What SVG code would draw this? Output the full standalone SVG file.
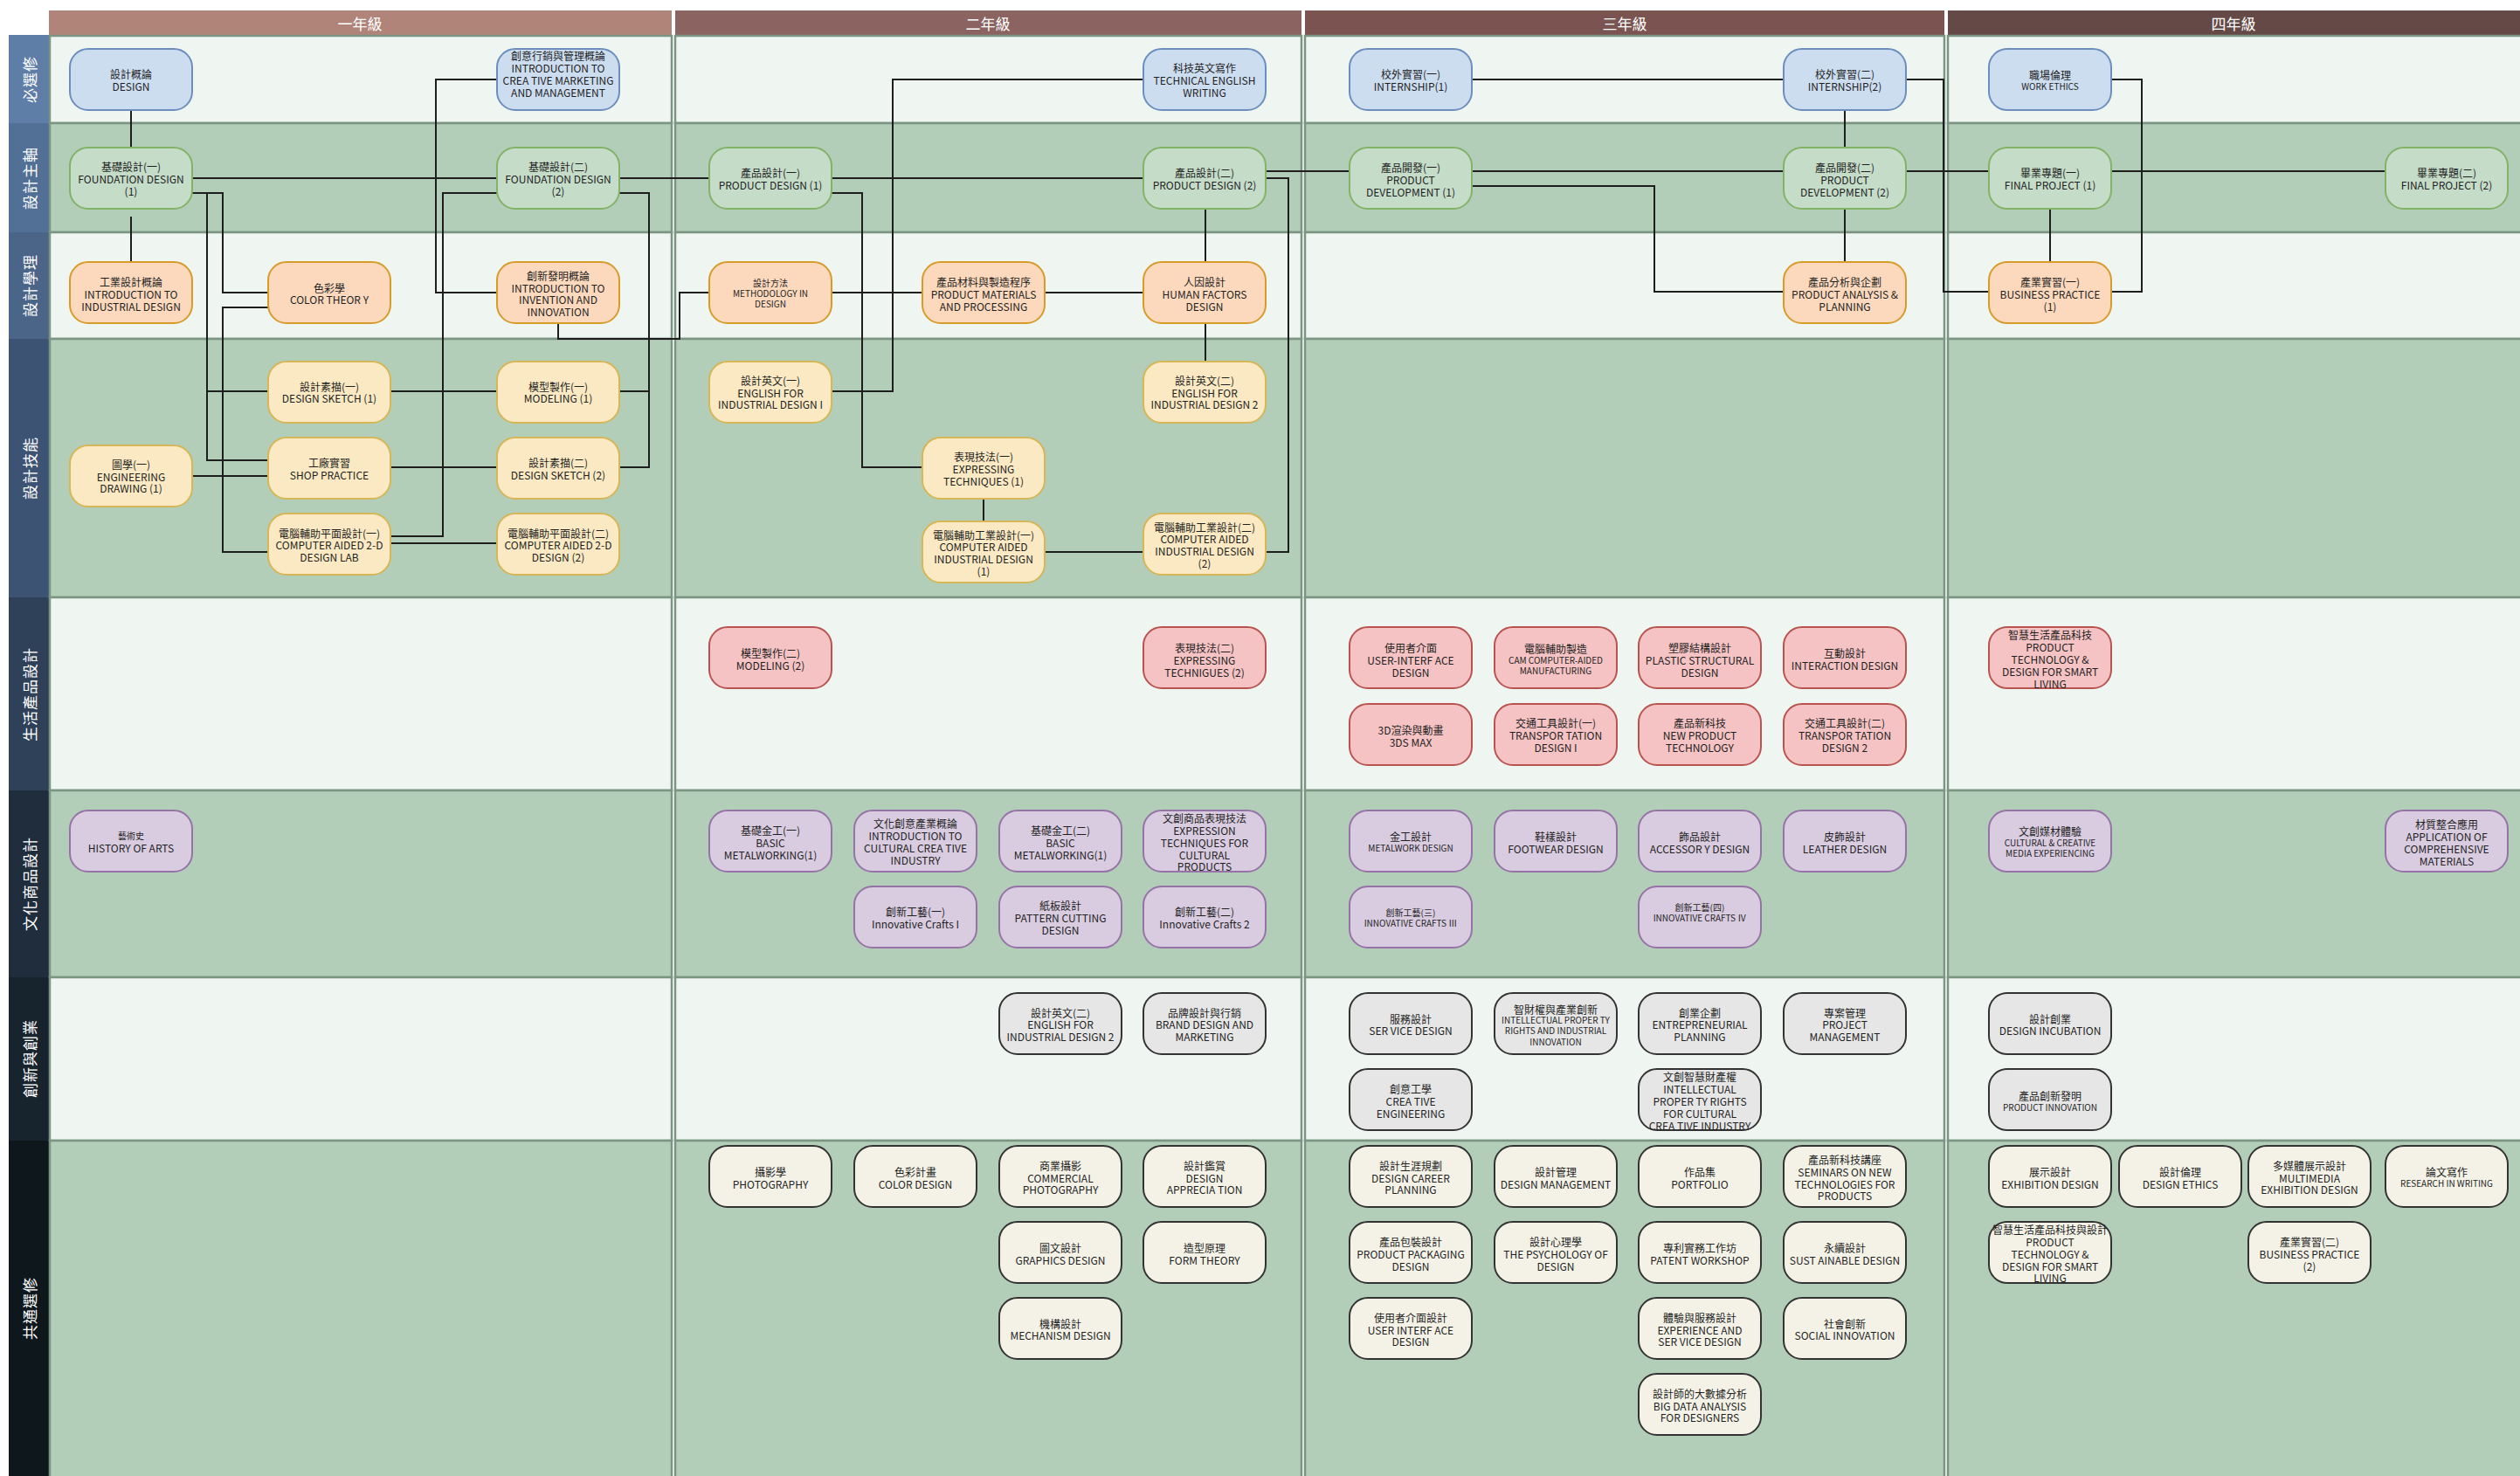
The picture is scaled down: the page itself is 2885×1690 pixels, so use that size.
<svg xmlns="http://www.w3.org/2000/svg" width="2885" height="1690" viewBox="0 0 2885 1690">
<style>
.bg{fill:#ffffff}
.lt{fill:#eff6f1;stroke:#7b9583;stroke-width:2.5}
.dk{fill:#b2cdb8;stroke:#7b9583;stroke-width:2.5}
.hd{fill:#ffffff;font-family:"Noto Sans CJK TC","Noto Sans CJK SC",sans-serif;font-size:17px;text-anchor:middle;dominant-baseline:central}
.ln{fill:#ffffff;font-family:"Noto Sans CJK TC","Noto Sans CJK SC",sans-serif;font-size:17px;text-anchor:middle;dominant-baseline:central;letter-spacing:1px}
.n{stroke-width:2}
.b{fill:#cdddf0;stroke:#6c8ebf}
.g{fill:#c5dcc9;stroke:#82b366}
.o{fill:#fcd9bd;stroke:#d79b2a}
.y{fill:#fae9c2;stroke:#d6b656}
.r{fill:#f5c3c3;stroke:#b85450}
.p{fill:#d9cce0;stroke:#9673a6}
.gr{fill:#e6e6e6;stroke:#333333}
.c{fill:#f4f2e7;stroke:#333333}
.t{font-family:"Noto Sans CJK TC","Noto Sans CJK SC",sans-serif;font-size:12px;fill:#1f1f1f;text-anchor:middle;dominant-baseline:central}
.s{font-size:10px}
.cn{fill:none;stroke:#1e1e1e;stroke-width:2}
</style>
<rect class="bg" x="0" y="0" width="2885" height="1690"/>

<g id="headers">
<rect x="56" y="12" width="713" height="28" fill="#b08479"/>
<rect x="773" y="12" width="717" height="28" fill="#8b6461"/>
<rect x="1494" y="12" width="732" height="28" fill="#7b5350"/>
<rect x="2230" y="12" width="655" height="28" fill="#654946"/>
<text class="hd" x="412" y="26">一年級</text>
<text class="hd" x="1131" y="26">二年級</text>
<text class="hd" x="1860" y="26">三年級</text>
<text class="hd" x="2557" y="26">四年級</text>
</g>

<g id="lane-labels">
<rect x="10" y="40" width="47" height="101" fill="#5f7ea7"/>
<rect x="10" y="141" width="47" height="125" fill="#526f96"/>
<rect x="10" y="266" width="47" height="122" fill="#4b6588"/>
<rect x="10" y="388" width="47" height="296" fill="#3d5373"/>
<rect x="10" y="684" width="47" height="221" fill="#2e4158"/>
<rect x="10" y="905" width="47" height="214" fill="#1f2d3c"/>
<rect x="10" y="1119" width="47" height="187" fill="#17242e"/>
<rect x="10" y="1306" width="47" height="384" fill="#0d171c"/>
<text class="ln" transform="translate(33,91) rotate(-90)">必選修</text>
<text class="ln" transform="translate(33,204) rotate(-90)">設計主軸</text>
<text class="ln" transform="translate(33,327) rotate(-90)">設計學理</text>
<text class="ln" transform="translate(33,536) rotate(-90)">設計技能</text>
<text class="ln" transform="translate(33,795) rotate(-90)">生活產品設計</text>
<text class="ln" transform="translate(33,1012) rotate(-90)">文化商品設計</text>
<text class="ln" transform="translate(33,1212) rotate(-90)">創新與創業</text>
<text class="ln" transform="translate(33,1498) rotate(-90)">共通選修</text>
</g>

<g id="lanes">
<rect class="lt" x="57" y="41" width="712" height="100"/>
<rect class="lt" x="773" y="41" width="717" height="100"/>
<rect class="lt" x="1494" y="41" width="732" height="100"/>
<rect class="lt" x="2230" y="41" width="660" height="100"/>
<rect class="dk" x="57" y="141" width="712" height="125"/>
<rect class="dk" x="773" y="141" width="717" height="125"/>
<rect class="dk" x="1494" y="141" width="732" height="125"/>
<rect class="dk" x="2230" y="141" width="660" height="125"/>
<rect class="lt" x="57" y="266" width="712" height="122"/>
<rect class="lt" x="773" y="266" width="717" height="122"/>
<rect class="lt" x="1494" y="266" width="732" height="122"/>
<rect class="lt" x="2230" y="266" width="660" height="122"/>
<rect class="dk" x="57" y="388" width="712" height="296"/>
<rect class="dk" x="773" y="388" width="717" height="296"/>
<rect class="dk" x="1494" y="388" width="732" height="296"/>
<rect class="dk" x="2230" y="388" width="660" height="296"/>
<rect class="lt" x="57" y="684" width="712" height="221"/>
<rect class="lt" x="773" y="684" width="717" height="221"/>
<rect class="lt" x="1494" y="684" width="732" height="221"/>
<rect class="lt" x="2230" y="684" width="660" height="221"/>
<rect class="dk" x="57" y="905" width="712" height="214"/>
<rect class="dk" x="773" y="905" width="717" height="214"/>
<rect class="dk" x="1494" y="905" width="732" height="214"/>
<rect class="dk" x="2230" y="905" width="660" height="214"/>
<rect class="lt" x="57" y="1119" width="712" height="187"/>
<rect class="lt" x="773" y="1119" width="717" height="187"/>
<rect class="lt" x="1494" y="1119" width="732" height="187"/>
<rect class="lt" x="2230" y="1119" width="660" height="187"/>
<rect class="dk" x="57" y="1306" width="712" height="390"/>
<rect class="dk" x="773" y="1306" width="717" height="390"/>
<rect class="dk" x="1494" y="1306" width="732" height="390"/>
<rect class="dk" x="2230" y="1306" width="660" height="390"/>
</g>

<g id="connectors">
<path class="cn" d="M150,126 V169"/>
<path class="cn" d="M150,248 V300"/>
<path class="cn" d="M220,204 H569"/>
<path class="cn" d="M709,204 H812"/>
<path class="cn" d="M220,221 H255 V335 H307"/>
<path class="cn" d="M220,221 H237 V527 H307"/>
<path class="cn" d="M237,448 H307"/>
<path class="cn" d="M307,352 H255 V632 H307"/>
<path class="cn" d="M447,448 H569"/>
<path class="cn" d="M709,221 H743 V535 H709"/>
<path class="cn" d="M709,448 H743"/>
<path class="cn" d="M447,535 H569"/>
<path class="cn" d="M220,545 H307"/>
<path class="cn" d="M447,622 H569"/>
<path class="cn" d="M447,614 H507 V221 H569"/>
<path class="cn" d="M569,91 H499 V335 H569"/>
<path class="cn" d="M639,370 V388 H778 V335 H812"/>
<path class="cn" d="M1309,91 H1022 V448 H952"/>
<path class="cn" d="M952,204 H1309"/>
<path class="cn" d="M952,221 H987 V535 H1056"/>
<path class="cn" d="M952,335 H1056"/>
<path class="cn" d="M1196,335 H1309"/>
<path class="cn" d="M1380,239 V300"/>
<path class="cn" d="M1380,370 V414"/>
<path class="cn" d="M1126,571 V597"/>
<path class="cn" d="M1196,632 H1309"/>
<path class="cn" d="M1449,632 H1475 V204 H1449"/>
<path class="cn" d="M1449,196 H1545"/>
<path class="cn" d="M1685,91 H2042"/>
<path class="cn" d="M2182,91 H2225 V334 H2277"/>
<path class="cn" d="M2112,126 V169"/>
<path class="cn" d="M1685,196 H2042"/>
<path class="cn" d="M1685,213 H1894 V334 H2042"/>
<path class="cn" d="M2112,239 V300"/>
<path class="cn" d="M2182,196 H2277"/>
<path class="cn" d="M2417,91 H2452 V334 H2417"/>
<path class="cn" d="M2417,196 H2731"/>
<path class="cn" d="M2347,239 V300"/>
</g>

<!-- Lane 1 -->
<g id="n-design"><rect class="n b" x="80" y="56" width="140" height="70" rx="21"/><text class="t"><tspan x="150" y="84">設計概論</tspan><tspan x="150" y="98">DESIGN</tspan></text></g>
<g id="n-cmm"><rect class="n b" x="569" y="56" width="140" height="70" rx="21"/><text class="t"><tspan x="639" y="63">創意行銷與管理概論</tspan><tspan x="639" y="77">INTRODUCTION TO</tspan><tspan x="639" y="91">CREA TIVE MARKETING</tspan><tspan x="639" y="105">AND MANAGEMENT</tspan></text></g>
<g id="n-tew"><rect class="n b" x="1309" y="56" width="140" height="70" rx="21"/><text class="t"><tspan x="1379" y="77">科技英文寫作</tspan><tspan x="1379" y="91">TECHNICAL ENGLISH</tspan><tspan x="1379" y="105">WRITING</tspan></text></g>
<g id="n-int1"><rect class="n b" x="1545" y="56" width="140" height="70" rx="21"/><text class="t"><tspan x="1615" y="84">校外實習(一)</tspan><tspan x="1615" y="98">INTERNSHIP(1)</tspan></text></g>
<g id="n-int2"><rect class="n b" x="2042" y="56" width="140" height="70" rx="21"/><text class="t"><tspan x="2112" y="84">校外實習(二)</tspan><tspan x="2112" y="98">INTERNSHIP(2)</tspan></text></g>
<g id="n-we"><rect class="n b" x="2277" y="56" width="140" height="70" rx="21"/><text class="t"><tspan x="2347" y="85">職場倫理</tspan><tspan class="s" x="2347" y="98">WORK ETHICS</tspan></text></g>

<!-- Lane 2 -->
<g id="n-fd1"><rect class="n g" x="80" y="169" width="140" height="70" rx="21"/><text class="t"><tspan x="150" y="190">基礎設計(一)</tspan><tspan x="150" y="204">FOUNDATION DESIGN</tspan><tspan x="150" y="218">(1)</tspan></text></g>
<g id="n-fd2"><rect class="n g" x="569" y="169" width="140" height="70" rx="21"/><text class="t"><tspan x="639" y="190">基礎設計(二)</tspan><tspan x="639" y="204">FOUNDATION DESIGN</tspan><tspan x="639" y="218">(2)</tspan></text></g>
<g id="n-pd1"><rect class="n g" x="812" y="169" width="140" height="70" rx="21"/><text class="t"><tspan x="882" y="197">產品設計(一)</tspan><tspan x="882" y="211">PRODUCT DESIGN (1)</tspan></text></g>
<g id="n-pd2"><rect class="n g" x="1309" y="169" width="140" height="70" rx="21"/><text class="t"><tspan x="1379" y="197">產品設計(二)</tspan><tspan x="1379" y="211">PRODUCT DESIGN (2)</tspan></text></g>
<g id="n-dev1"><rect class="n g" x="1545" y="169" width="140" height="70" rx="21"/><text class="t"><tspan x="1615" y="191">產品開發(一)</tspan><tspan x="1615" y="205">PRODUCT</tspan><tspan x="1615" y="219">DEVELOPMENT (1)</tspan></text></g>
<g id="n-dev2"><rect class="n g" x="2042" y="169" width="140" height="70" rx="21"/><text class="t"><tspan x="2112" y="191">產品開發(二)</tspan><tspan x="2112" y="205">PRODUCT</tspan><tspan x="2112" y="219">DEVELOPMENT (2)</tspan></text></g>
<g id="n-fp1"><rect class="n g" x="2277" y="169" width="140" height="70" rx="21"/><text class="t"><tspan x="2347" y="197">畢業專題(一)</tspan><tspan x="2347" y="211">FINAL PROJECT (1)</tspan></text></g>
<g id="n-fp2"><rect class="n g" x="2731" y="169" width="140" height="70" rx="21"/><text class="t"><tspan x="2801" y="197">畢業專題(二)</tspan><tspan x="2801" y="211">FINAL PROJECT (2)</tspan></text></g>

<!-- Lane 3 -->
<g id="n-iid"><rect class="n o" x="80" y="300" width="140" height="70" rx="21"/><text class="t"><tspan x="150" y="322">工業設計概論</tspan><tspan x="150" y="336">INTRODUCTION TO</tspan><tspan x="150" y="350">INDUSTRIAL DESIGN</tspan></text></g>
<g id="n-ct"><rect class="n o" x="307" y="300" width="140" height="70" rx="21"/><text class="t"><tspan x="377" y="329">色彩學</tspan><tspan x="377" y="342">COLOR THEOR Y</tspan></text></g>
<g id="n-iii"><rect class="n o" x="569" y="300" width="140" height="70" rx="21"/><text class="t"><tspan x="639" y="315">創新發明概論</tspan><tspan x="639" y="329">INTRODUCTION TO</tspan><tspan x="639" y="342">INVENTION AND</tspan><tspan x="639" y="356">INNOVATION</tspan></text></g>
<g id="n-meth"><rect class="n o" x="812" y="300" width="140" height="70" rx="21"/><text class="t s"><tspan x="882" y="323">設計方法</tspan><tspan x="882" y="335">METHODOLOGY IN</tspan><tspan x="882" y="347">DESIGN</tspan></text></g>
<g id="n-pmp"><rect class="n o" x="1056" y="300" width="140" height="70" rx="21"/><text class="t"><tspan x="1126" y="322">產品材料與製造程序</tspan><tspan x="1126" y="336">PRODUCT MATERIALS</tspan><tspan x="1126" y="350">AND PROCESSING</tspan></text></g>
<g id="n-hf"><rect class="n o" x="1309" y="300" width="140" height="70" rx="21"/><text class="t"><tspan x="1379" y="322">人因設計</tspan><tspan x="1379" y="336">HUMAN FACTORS</tspan><tspan x="1379" y="350">DESIGN</tspan></text></g>
<g id="n-pap"><rect class="n o" x="2042" y="300" width="140" height="70" rx="21"/><text class="t"><tspan x="2112" y="322">產品分析與企劃</tspan><tspan x="2112" y="336">PRODUCT ANALYSIS &amp;</tspan><tspan x="2112" y="350">PLANNING</tspan></text></g>
<g id="n-bp1"><rect class="n o" x="2277" y="300" width="140" height="70" rx="21"/><text class="t"><tspan x="2347" y="322">產業實習(一)</tspan><tspan x="2347" y="336">BUSINESS PRACTICE</tspan><tspan x="2347" y="350">(1)</tspan></text></g>

<!-- Lane 4 -->
<g id="n-ds1"><rect class="n y" x="307" y="414" width="140" height="70" rx="21"/><text class="t"><tspan x="377" y="442">設計素描(一)</tspan><tspan x="377" y="455">DESIGN SKETCH (1)</tspan></text></g>
<g id="n-mod1"><rect class="n y" x="569" y="414" width="140" height="70" rx="21"/><text class="t"><tspan x="639" y="442">模型製作(一)</tspan><tspan x="639" y="455">MODELING (1)</tspan></text></g>
<g id="n-ed"><rect class="n y" x="80" y="510" width="140" height="70" rx="21"/><text class="t"><tspan x="150" y="531">圖學(一)</tspan><tspan x="150" y="545">ENGINEERING</tspan><tspan x="150" y="558">DRAWING (1)</tspan></text></g>
<g id="n-sp"><rect class="n y" x="307" y="501" width="140" height="70" rx="21"/><text class="t"><tspan x="377" y="529">工廠實習</tspan><tspan x="377" y="543">SHOP PRACTICE</tspan></text></g>
<g id="n-ds2"><rect class="n y" x="569" y="501" width="140" height="70" rx="21"/><text class="t"><tspan x="639" y="529">設計素描(二)</tspan><tspan x="639" y="543">DESIGN SKETCH (2)</tspan></text></g>
<g id="n-cad1"><rect class="n y" x="307" y="588" width="140" height="70" rx="21"/><text class="t"><tspan x="377" y="610">電腦輔助平面設計(一)</tspan><tspan x="377" y="623">COMPUTER AIDED 2-D</tspan><tspan x="377" y="637">DESIGN LAB</tspan></text></g>
<g id="n-cad2"><rect class="n y" x="569" y="588" width="140" height="70" rx="21"/><text class="t"><tspan x="639" y="610">電腦輔助平面設計(二)</tspan><tspan x="639" y="623">COMPUTER AIDED 2-D</tspan><tspan x="639" y="637">DESIGN (2)</tspan></text></g>
<g id="n-eng1"><rect class="n y" x="812" y="414" width="140" height="70" rx="21"/><text class="t"><tspan x="882" y="435">設計英文(一)</tspan><tspan x="882" y="449">ENGLISH FOR</tspan><tspan x="882" y="462">INDUSTRIAL DESIGN  I</tspan></text></g>
<g id="n-et1"><rect class="n y" x="1056" y="501" width="140" height="70" rx="21"/><text class="t"><tspan x="1126" y="522">表現技法(一)</tspan><tspan x="1126" y="536">EXPRESSING</tspan><tspan x="1126" y="550">TECHNIQUES (1)</tspan></text></g>
<g id="n-caid1"><rect class="n y" x="1056" y="597" width="140" height="70" rx="21"/><text class="t"><tspan x="1126" y="612">電腦輔助工業設計(一)</tspan><tspan x="1126" y="625">COMPUTER AIDED</tspan><tspan x="1126" y="639">INDUSTRIAL DESIGN</tspan><tspan x="1126" y="653">(1)</tspan></text></g>
<g id="n-eng2"><rect class="n y" x="1309" y="414" width="140" height="70" rx="21"/><text class="t"><tspan x="1379" y="435">設計英文(二)</tspan><tspan x="1379" y="449">ENGLISH FOR</tspan><tspan x="1379" y="462">INDUSTRIAL DESIGN  2</tspan></text></g>
<g id="n-caid2"><rect class="n y" x="1309" y="588" width="140" height="70" rx="21"/><text class="t"><tspan x="1379" y="603">電腦輔助工業設計(二)</tspan><tspan x="1379" y="616">COMPUTER AIDED</tspan><tspan x="1379" y="630">INDUSTRIAL DESIGN</tspan><tspan x="1379" y="644">(2)</tspan></text></g>

<!-- Lane 5 -->
<g id="n-mod2"><rect class="n r" x="812" y="718" width="140" height="70" rx="21"/><text class="t"><tspan x="882" y="747">模型製作(二)</tspan><tspan x="882" y="761">MODELING (2)</tspan></text></g>
<g id="n-et2"><rect class="n r" x="1309" y="718" width="140" height="70" rx="21"/><text class="t"><tspan x="1379" y="741">表現技法(二)</tspan><tspan x="1379" y="755">EXPRESSING</tspan><tspan x="1379" y="769">TECHNIGUES (2)</tspan></text></g>
<g id="n-ui"><rect class="n r" x="1545" y="718" width="140" height="70" rx="21"/><text class="t"><tspan x="1615" y="741">使用者介面</tspan><tspan x="1615" y="755">USER-INTERF ACE</tspan><tspan x="1615" y="769">DESIGN</tspan></text></g>
<g id="n-cam"><rect class="n r" x="1711" y="718" width="140" height="70" rx="21"/><text class="t"><tspan x="1781" y="742">電腦輔助製造</tspan><tspan class="s" x="1781" y="755">CAM COMPUTER-AIDED</tspan><tspan class="s" x="1781" y="767">MANUFACTURING</tspan></text></g>
<g id="n-psd"><rect class="n r" x="1876" y="718" width="140" height="70" rx="21"/><text class="t"><tspan x="1946" y="741">塑膠結構設計</tspan><tspan x="1946" y="755">PLASTIC STRUCTURAL</tspan><tspan x="1946" y="769">DESIGN</tspan></text></g>
<g id="n-ixd"><rect class="n r" x="2042" y="718" width="140" height="70" rx="21"/><text class="t"><tspan x="2112" y="747">互動設計</tspan><tspan x="2112" y="761">INTERACTION DESIGN</tspan></text></g>
<g id="n-3ds"><rect class="n r" x="1545" y="806" width="140" height="70" rx="21"/><text class="t"><tspan x="1615" y="835">3D渲染與動畫</tspan><tspan x="1615" y="849">3DS MAX</tspan></text></g>
<g id="n-td1"><rect class="n r" x="1711" y="806" width="140" height="70" rx="21"/><text class="t"><tspan x="1781" y="827">交通工具設計(一)</tspan><tspan x="1781" y="841">TRANSPOR TATION</tspan><tspan x="1781" y="855">DESIGN I</tspan></text></g>
<g id="n-npt"><rect class="n r" x="1876" y="806" width="140" height="70" rx="21"/><text class="t"><tspan x="1946" y="827">產品新科技</tspan><tspan x="1946" y="841">NEW PRODUCT</tspan><tspan x="1946" y="855">TECHNOLOGY</tspan></text></g>
<g id="n-td2"><rect class="n r" x="2042" y="806" width="140" height="70" rx="21"/><text class="t"><tspan x="2112" y="827">交通工具設計(二)</tspan><tspan x="2112" y="841">TRANSPOR TATION</tspan><tspan x="2112" y="855">DESIGN 2</tspan></text></g>
<g id="n-smart1"><rect class="n r" x="2277" y="718" width="140" height="70" rx="21"/><text class="t"><tspan x="2347" y="726">智慧生活產品科技</tspan><tspan x="2347" y="740">PRODUCT</tspan><tspan x="2347" y="754">TECHNOLOGY &amp;</tspan><tspan x="2347" y="768">DESIGN FOR SMART</tspan><tspan x="2347" y="782">LIVING</tspan></text></g>

<!-- Lane 6 -->
<g id="n-ha"><rect class="n p" x="80" y="928" width="140" height="70" rx="21"/><text class="t"><tspan class="s" x="150" y="956">藝術史</tspan><tspan x="150" y="970">HISTORY OF ARTS</tspan></text></g>
<g id="n-bm1"><rect class="n p" x="812" y="928" width="140" height="70" rx="21"/><text class="t"><tspan x="882" y="950">基礎金工(一)</tspan><tspan x="882" y="964">BASIC</tspan><tspan x="882" y="978">METALWORKING(1)</tspan></text></g>
<g id="n-icci"><rect class="n p" x="978" y="928" width="140" height="70" rx="21"/><text class="t"><tspan x="1048" y="942">文化創意產業概論</tspan><tspan x="1048" y="956">INTRODUCTION TO</tspan><tspan x="1048" y="970">CULTURAL CREA TIVE</tspan><tspan x="1048" y="984">INDUSTRY</tspan></text></g>
<g id="n-bm2"><rect class="n p" x="1144" y="928" width="140" height="70" rx="21"/><text class="t"><tspan x="1214" y="950">基礎金工(二)</tspan><tspan x="1214" y="964">BASIC</tspan><tspan x="1214" y="978">METALWORKING(1)</tspan></text></g>
<g id="n-etcp"><rect class="n p" x="1309" y="928" width="140" height="70" rx="21"/><text class="t"><tspan x="1379" y="936">文創商品表現技法</tspan><tspan x="1379" y="950">EXPRESSION</tspan><tspan x="1379" y="964">TECHNIQUES FOR</tspan><tspan x="1379" y="978">CULTURAL</tspan><tspan x="1379" y="991">PRODUCTS</tspan></text></g>
<g id="n-ic1"><rect class="n p" x="978" y="1015" width="140" height="70" rx="21"/><text class="t"><tspan x="1048" y="1043">創新工藝(一)</tspan><tspan x="1048" y="1057">Innovative Crafts I</tspan></text></g>
<g id="n-pcd"><rect class="n p" x="1144" y="1015" width="140" height="70" rx="21"/><text class="t"><tspan x="1214" y="1036">紙板設計</tspan><tspan x="1214" y="1050">PATTERN CUTTING</tspan><tspan x="1214" y="1064">DESIGN</tspan></text></g>
<g id="n-ic2"><rect class="n p" x="1309" y="1015" width="140" height="70" rx="21"/><text class="t"><tspan x="1379" y="1043">創新工藝(二)</tspan><tspan x="1379" y="1057">Innovative Crafts 2</tspan></text></g>
<g id="n-mwd"><rect class="n p" x="1545" y="928" width="140" height="70" rx="21"/><text class="t"><tspan x="1615" y="957">金工設計</tspan><tspan class="s" x="1615" y="970">METALWORK DESIGN</tspan></text></g>
<g id="n-fwd"><rect class="n p" x="1711" y="928" width="140" height="70" rx="21"/><text class="t"><tspan x="1781" y="957">鞋樣設計</tspan><tspan x="1781" y="971">FOOTWEAR DESIGN</tspan></text></g>
<g id="n-acd"><rect class="n p" x="1876" y="928" width="140" height="70" rx="21"/><text class="t"><tspan x="1946" y="957">飾品設計</tspan><tspan x="1946" y="971">ACCESSOR Y DESIGN</tspan></text></g>
<g id="n-ld"><rect class="n p" x="2042" y="928" width="140" height="70" rx="21"/><text class="t"><tspan x="2112" y="957">皮飾設計</tspan><tspan x="2112" y="971">LEATHER DESIGN</tspan></text></g>
<g id="n-ic3"><rect class="n p" x="1545" y="1015" width="140" height="70" rx="21"/><text class="t s"><tspan x="1615" y="1044">創新工藝(三)</tspan><tspan x="1615" y="1056">INNOVATIVE CRAFTS Ⅲ</tspan></text></g>
<g id="n-ic4"><rect class="n p" x="1876" y="1015" width="140" height="70" rx="21"/><text class="t s"><tspan x="1946" y="1038">創新工藝(四)</tspan><tspan x="1946" y="1050">INNOVATIVE CRAFTS Ⅳ</tspan></text></g>
<g id="n-ccme"><rect class="n p" x="2277" y="928" width="140" height="70" rx="21"/><text class="t"><tspan x="2347" y="951">文創媒材體驗</tspan><tspan class="s" x="2347" y="964">CULTURAL &amp; CREATIVE</tspan><tspan class="s" x="2347" y="976">MEDIA EXPERIENCING</tspan></text></g>
<g id="n-acm"><rect class="n p" x="2731" y="928" width="140" height="70" rx="21"/><text class="t"><tspan x="2801" y="943">材質整合應用</tspan><tspan x="2801" y="957">APPLICATION OF</tspan><tspan x="2801" y="971">COMPREHENSIVE</tspan><tspan x="2801" y="985">MATERIALS</tspan></text></g>

<!-- Lane 7 -->
<g id="n-eng2b"><rect class="n gr" x="1144" y="1137" width="140" height="70" rx="21"/><text class="t"><tspan x="1214" y="1159">設計英文(二)</tspan><tspan x="1214" y="1172">ENGLISH FOR</tspan><tspan x="1214" y="1186">INDUSTRIAL DESIGN  2</tspan></text></g>
<g id="n-bdm"><rect class="n gr" x="1309" y="1137" width="140" height="70" rx="21"/><text class="t"><tspan x="1379" y="1159">品牌設計與行銷</tspan><tspan x="1379" y="1172">BRAND DESIGN AND</tspan><tspan x="1379" y="1186">MARKETING</tspan></text></g>
<g id="n-sd"><rect class="n gr" x="1545" y="1137" width="140" height="70" rx="21"/><text class="t"><tspan x="1615" y="1166">服務設計</tspan><tspan x="1615" y="1179">SER VICE DESIGN</tspan></text></g>
<g id="n-ipr"><rect class="n gr" x="1711" y="1137" width="140" height="70" rx="21"/><text class="t"><tspan x="1781" y="1155">智財權與產業創新</tspan><tspan class="s" x="1781" y="1167">INTELLECTUAL PROPER TY</tspan><tspan class="s" x="1781" y="1179">RIGHTS AND INDUSTRIAL</tspan><tspan class="s" x="1781" y="1192">INNOVATION</tspan></text></g>
<g id="n-ep"><rect class="n gr" x="1876" y="1137" width="140" height="70" rx="21"/><text class="t"><tspan x="1946" y="1159">創業企劃</tspan><tspan x="1946" y="1172">ENTREPRENEURIAL</tspan><tspan x="1946" y="1186">PLANNING</tspan></text></g>
<g id="n-pm"><rect class="n gr" x="2042" y="1137" width="140" height="70" rx="21"/><text class="t"><tspan x="2112" y="1159">專案管理</tspan><tspan x="2112" y="1172">PROJECT</tspan><tspan x="2112" y="1186">MANAGEMENT</tspan></text></g>
<g id="n-ce"><rect class="n gr" x="1545" y="1224" width="140" height="70" rx="21"/><text class="t"><tspan x="1615" y="1246">創意工學</tspan><tspan x="1615" y="1260">CREA TIVE</tspan><tspan x="1615" y="1274">ENGINEERING</tspan></text></g>
<g id="n-iprc"><rect class="n gr" x="1876" y="1224" width="140" height="70" rx="21"/><text class="t"><tspan x="1946" y="1232">文創智慧財產權</tspan><tspan x="1946" y="1246">INTELLECTUAL</tspan><tspan x="1946" y="1260">PROPER TY RIGHTS</tspan><tspan x="1946" y="1274">FOR CULTURAL</tspan><tspan x="1946" y="1288">CREA TIVE INDUSTRY</tspan></text></g>
<g id="n-di"><rect class="n gr" x="2277" y="1137" width="140" height="70" rx="21"/><text class="t"><tspan x="2347" y="1166">設計創業</tspan><tspan x="2347" y="1179">DESIGN INCUBATION</tspan></text></g>
<g id="n-pi"><rect class="n gr" x="2277" y="1224" width="140" height="70" rx="21"/><text class="t"><tspan x="2347" y="1254">產品創新發明</tspan><tspan class="s" x="2347" y="1267">PRODUCT INNOVATION</tspan></text></g>

<!-- Lane 8 -->
<g id="n-photo"><rect class="n c" x="812" y="1312" width="140" height="70" rx="21"/><text class="t"><tspan x="882" y="1341">攝影學</tspan><tspan x="882" y="1355">PHOTOGRAPHY</tspan></text></g>
<g id="n-cd"><rect class="n c" x="978" y="1312" width="140" height="70" rx="21"/><text class="t"><tspan x="1048" y="1341">色彩計畫</tspan><tspan x="1048" y="1355">COLOR DESIGN</tspan></text></g>
<g id="n-cp"><rect class="n c" x="1144" y="1312" width="140" height="70" rx="21"/><text class="t"><tspan x="1214" y="1334">商業攝影</tspan><tspan x="1214" y="1348">COMMERCIAL</tspan><tspan x="1214" y="1361">PHOTOGRAPHY</tspan></text></g>
<g id="n-da"><rect class="n c" x="1309" y="1312" width="140" height="70" rx="21"/><text class="t"><tspan x="1379" y="1334">設計鑑賞</tspan><tspan x="1379" y="1348">DESIGN</tspan><tspan x="1379" y="1361">APPRECIA TION</tspan></text></g>
<g id="n-gd"><rect class="n c" x="1144" y="1399" width="140" height="70" rx="21"/><text class="t"><tspan x="1214" y="1428">圖文設計</tspan><tspan x="1214" y="1442">GRAPHICS DESIGN</tspan></text></g>
<g id="n-ft"><rect class="n c" x="1309" y="1399" width="140" height="70" rx="21"/><text class="t"><tspan x="1379" y="1428">造型原理</tspan><tspan x="1379" y="1442">FORM THEORY</tspan></text></g>
<g id="n-mech"><rect class="n c" x="1144" y="1486" width="140" height="70" rx="21"/><text class="t"><tspan x="1214" y="1515">機構設計</tspan><tspan x="1214" y="1528">MECHANISM DESIGN</tspan></text></g>
<g id="n-dcp"><rect class="n c" x="1545" y="1312" width="140" height="70" rx="21"/><text class="t"><tspan x="1615" y="1334">設計生涯規劃</tspan><tspan x="1615" y="1348">DESIGN CAREER</tspan><tspan x="1615" y="1361">PLANNING</tspan></text></g>
<g id="n-dm"><rect class="n c" x="1711" y="1312" width="140" height="70" rx="21"/><text class="t"><tspan x="1781" y="1341">設計管理</tspan><tspan x="1781" y="1355">DESIGN MANAGEMENT</tspan></text></g>
<g id="n-pf"><rect class="n c" x="1876" y="1312" width="140" height="70" rx="21"/><text class="t"><tspan x="1946" y="1341">作品集</tspan><tspan x="1946" y="1355">PORTFOLIO</tspan></text></g>
<g id="n-snt"><rect class="n c" x="2042" y="1312" width="140" height="70" rx="21"/><text class="t"><tspan x="2112" y="1327">產品新科技講座</tspan><tspan x="2112" y="1341">SEMINARS ON NEW</tspan><tspan x="2112" y="1355">TECHNOLOGIES FOR</tspan><tspan x="2112" y="1368">PRODUCTS</tspan></text></g>
<g id="n-ppd"><rect class="n c" x="1545" y="1399" width="140" height="70" rx="21"/><text class="t"><tspan x="1615" y="1421">產品包裝設計</tspan><tspan x="1615" y="1435">PRODUCT PACKAGING</tspan><tspan x="1615" y="1449">DESIGN</tspan></text></g>
<g id="n-psy"><rect class="n c" x="1711" y="1399" width="140" height="70" rx="21"/><text class="t"><tspan x="1781" y="1421">設計心理學</tspan><tspan x="1781" y="1435">THE PSYCHOLOGY OF</tspan><tspan x="1781" y="1449">DESIGN</tspan></text></g>
<g id="n-pw"><rect class="n c" x="1876" y="1399" width="140" height="70" rx="21"/><text class="t"><tspan x="1946" y="1428">專利實務工作坊</tspan><tspan x="1946" y="1442">PATENT WORKSHOP</tspan></text></g>
<g id="n-sus"><rect class="n c" x="2042" y="1399" width="140" height="70" rx="21"/><text class="t"><tspan x="2112" y="1428">永續設計</tspan><tspan x="2112" y="1442">SUST AINABLE DESIGN</tspan></text></g>
<g id="n-uid"><rect class="n c" x="1545" y="1486" width="140" height="70" rx="21"/><text class="t"><tspan x="1615" y="1508">使用者介面設計</tspan><tspan x="1615" y="1522">USER INTERF ACE</tspan><tspan x="1615" y="1535">DESIGN</tspan></text></g>
<g id="n-esd"><rect class="n c" x="1876" y="1486" width="140" height="70" rx="21"/><text class="t"><tspan x="1946" y="1508">體驗與服務設計</tspan><tspan x="1946" y="1522">EXPERIENCE AND</tspan><tspan x="1946" y="1535">SER VICE DESIGN</tspan></text></g>
<g id="n-si"><rect class="n c" x="2042" y="1486" width="140" height="70" rx="21"/><text class="t"><tspan x="2112" y="1515">社會創新</tspan><tspan x="2112" y="1528">SOCIAL INNOVATION</tspan></text></g>
<g id="n-bda"><rect class="n c" x="1876" y="1573" width="140" height="70" rx="21"/><text class="t"><tspan x="1946" y="1595">設計師的大數據分析</tspan><tspan x="1946" y="1609">BIG DATA ANALYSIS</tspan><tspan x="1946" y="1622">FOR DESIGNERS</tspan></text></g>
<g id="n-exd"><rect class="n c" x="2277" y="1312" width="140" height="70" rx="21"/><text class="t"><tspan x="2347" y="1341">展示設計</tspan><tspan x="2347" y="1355">EXHIBITION DESIGN</tspan></text></g>
<g id="n-de"><rect class="n c" x="2426" y="1312" width="140" height="70" rx="21"/><text class="t"><tspan x="2496" y="1341">設計倫理</tspan><tspan x="2496" y="1355">DESIGN ETHICS</tspan></text></g>
<g id="n-med"><rect class="n c" x="2574" y="1312" width="140" height="70" rx="21"/><text class="t"><tspan x="2644" y="1334">多媒體展示設計</tspan><tspan x="2644" y="1348">MULTIMEDIA</tspan><tspan x="2644" y="1361">EXHIBITION DESIGN</tspan></text></g>
<g id="n-rw"><rect class="n c" x="2731" y="1312" width="140" height="70" rx="21"/><text class="t"><tspan x="2801" y="1341">論文寫作</tspan><tspan class="s" x="2801" y="1354">RESEARCH IN WRITING</tspan></text></g>
<g id="n-smart2"><rect class="n c" x="2277" y="1399" width="140" height="70" rx="21"/><text class="t"><tspan x="2347" y="1407">智慧生活產品科技與設計</tspan><tspan x="2347" y="1421">PRODUCT</tspan><tspan x="2347" y="1435">TECHNOLOGY &amp;</tspan><tspan x="2347" y="1449">DESIGN FOR SMART</tspan><tspan x="2347" y="1462">LIVING</tspan></text></g>
<g id="n-bp2"><rect class="n c" x="2574" y="1399" width="140" height="70" rx="21"/><text class="t"><tspan x="2644" y="1421">產業實習(二)</tspan><tspan x="2644" y="1435">BUSINESS PRACTICE</tspan><tspan x="2644" y="1449">(2)</tspan></text></g>
</svg>
